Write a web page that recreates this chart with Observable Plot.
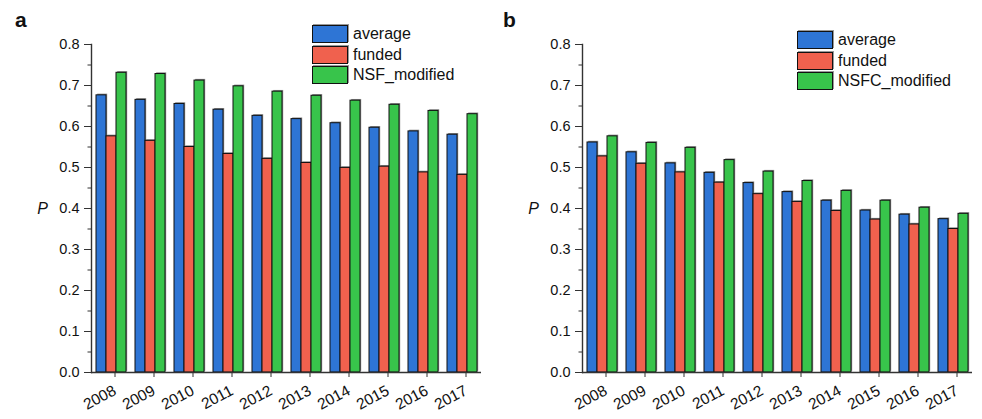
<!DOCTYPE html>
<html><head><meta charset="utf-8">
<script src="https://cdn.jsdelivr.net/npm/d3@7"></script>
<script src="https://cdn.jsdelivr.net/npm/@observablehq/plot@0.6"></script>
<style>
body{margin:0;background:#fff;font-family:"Liberation Sans",Arial,sans-serif;}
#wrap{position:relative;width:982px;height:419px;display:flex;}
.panel{position:relative;width:491px;height:419px;}
.panel svg{display:block;}
.plabel{position:absolute;font-weight:bold;font-size:21px;line-height:21px;color:#111;}
.legend{position:absolute;font-size:16px;color:#111;}
.legend .row{display:flex;align-items:center;height:20.4px;}
.sw{width:34px;height:16px;border:1px solid #111;margin-right:5px;box-shadow:1px -1px 0 #999;}
</style></head>
<body>
<div id="wrap"></div>
<script>
const years = ["2008","2009","2010","2011","2012","2013","2014","2015","2016","2017"];
const seriesA = ["average","funded","NSF_modified"];
const seriesB = ["average","funded","NSFC_modified"];
const colors = ["#2e75d5","#f0614e","#38c44b"];

const aAverage = [0.676,0.665,0.655,0.641,0.626,0.618,0.608,0.597,0.588,0.580];
const aFunded  = [0.576,0.565,0.550,0.533,0.521,0.511,0.499,0.502,0.488,0.482];
const aNSF     = [0.731,0.728,0.712,0.698,0.685,0.675,0.663,0.653,0.638,0.630];

const bAverage = [0.561,0.537,0.510,0.487,0.462,0.440,0.419,0.395,0.385,0.374];
const bFunded  = [0.527,0.509,0.488,0.463,0.435,0.416,0.394,0.373,0.361,0.350];
const bNSFC    = [0.576,0.560,0.548,0.518,0.490,0.467,0.443,0.419,0.402,0.387];

const yTicks = [0,0.1,0.2,0.3,0.4,0.5,0.6,0.7,0.8];
const yMinor = [0.05,0.15,0.25,0.35,0.45,0.55,0.65,0.75];

function rows(series, vals){
  return years.flatMap((yr,i)=>series.map((s,j)=>({year:yr, series:s, value:vals[j][i]})));
}

function panel(data, series, label, legendPos){
  const div = document.createElement("div");
  div.className = "panel";
  const svg = Plot.plot({
    width:491, height:419,
    marginLeft:87, marginRight:7, marginTop:44, marginBottom:47,
    style:{fontFamily:"Liberation Sans, Arial, sans-serif", fontSize:"14px", color:"#222", background:"transparent", overflow:"visible"},
    fx:{domain:years, padding:0, label:null},
    x:{domain:series, paddingInner:0, paddingOuter:0.36, axis:null},
    y:{domain:[0,0.8], axis:null},
    color:{domain:series, range:colors},
    marks:[
      Plot.barY(data,{fx:"year", x:"series", y:"value", fill:"#8c8c8c", dx:1.2, dy:-1.2, inset:0}),
      Plot.barY(data,{fx:"year", x:"series", y:"value", fill:"series", stroke:"#111", strokeWidth:1, inset:0}),
      Plot.ruleY([0],{stroke:"#333", strokeWidth:1.4}),
      Plot.frame({anchor:"left", facetAnchor:"left", stroke:"#333", strokeWidth:1.4}),
      Plot.axisFx({anchor:"bottom", tickRotate:-28, tickSize:5, tickPadding:12, dx:4, label:null, fontSize:15.5, stroke:"#333", fill:"#111"}),
      Plot.axisY({ticks:yTicks, tickFormat:".1f", tickSize:7, tickPadding:5, label:null, fontSize:14.5, stroke:"#333", fill:"#111"}),
      Plot.axisY({ticks:yMinor, tickFormat:()=>"", tickSize:3.5, label:null, stroke:"#333"}),
      Plot.text(["P"],{frameAnchor:"left", facetAnchor:"left", dx:-49, textAnchor:"middle", fontStyle:"italic", fontSize:16, fill:"#111"})
    ]
  });
  div.appendChild(svg);
  const pl = document.createElement("div");
  pl.className = "plabel"; pl.textContent = label;
  pl.style.left = legendPos.lx + "px"; pl.style.top = "9px";
  div.appendChild(pl);
  const lg = document.createElement("div");
  lg.className = "legend";
  lg.style.left = legendPos.x + "px"; lg.style.top = legendPos.y + "px";
  series.forEach((s,i)=>{
    const r = document.createElement("div"); r.className = "row";
    const sw = document.createElement("div"); sw.className = "sw"; sw.style.background = colors[i];
    const t = document.createElement("span"); t.textContent = s;
    r.appendChild(sw); r.appendChild(t); lg.appendChild(r);
  });
  div.appendChild(lg);
  return div;
}

const wrap = document.getElementById("wrap");
wrap.appendChild(panel(rows(seriesA,[aAverage,aFunded,aNSF]), seriesA, "a", {x:312, y:24, lx:15}));
wrap.appendChild(panel(rows(seriesB,[bAverage,bFunded,bNSFC]), seriesB, "b", {x:306, y:30, lx:12}));
</script>
</body></html>
